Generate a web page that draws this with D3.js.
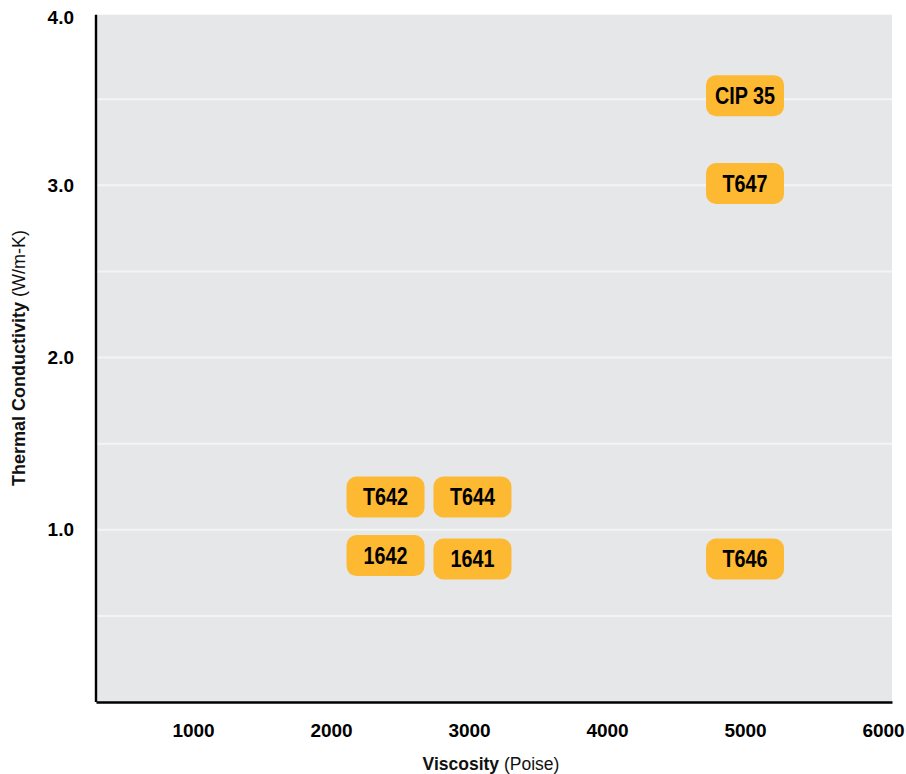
<!DOCTYPE html>
<html>
<head>
<meta charset="utf-8">
<script src="https://cdn.jsdelivr.net/npm/d3@7"></script>
<style>
  body { margin: 0; background: #fff; }
  svg { display: block; font-family: "Liberation Sans", Arial, sans-serif; }
</style>
</head>
<body>
<div id="chart-area"></div>
<script>
// Product grades: viscosity vs thermal conductivity
var labels = ["T642", "T644", "1642", "1641", "T646", "T647", "CIP 35"];
var viscosity = [2395, 3025, 2395, 3025, 5000, 5000, 5000];
var conductivity = [1.19, 1.19, 0.85, 0.83, 0.83, 3.01, 3.52];

var xTicks = [1000, 2000, 3000, 4000, 5000, 6000];
var yTicks = [1, 2, 3, 4];
var gridLines = [0.5, 1, 1.5, 2, 2.5, 3, 3.5];

//Plot area (window.top is reserved, so names are prefixed)
var W = 906, H = 774;
var plotLeft = 96, plotRight = 892, plotTop = 13, plotBottom = 702;

var x = d3.scaleLinear().domain([297, 6065]).range([plotLeft, plotRight]);
var y = d3.scaleLinear().domain([0, 4]).range([plotBottom, plotTop]);

var svg = d3.select("#chart-area").append("svg")
    .attr("width", W)
    .attr("height", H);

// plot background
svg.append("rect")
    .attr("x", plotLeft).attr("y", y(3.99))
    .attr("width", plotRight - plotLeft).attr("height", plotBottom - y(3.99))
    .attr("fill", "#e6e7e9");

// gridlines
svg.append("g").selectAll("line")
    .data(gridLines)
    .enter().append("line")
        .attr("x1", plotLeft).attr("x2", plotRight)
        .attr("y1", d => y(d)).attr("y2", d => y(d))
        .attr("stroke", "#f4f4f5")
        .attr("stroke-width", 2);

// axes
var xAxisGroup = svg.append("g")
    .attr("transform", "translate(0," + plotBottom + ")")
    .call(d3.axisBottom(x).tickValues(xTicks).tickSize(0).tickPadding(22).tickFormat(d3.format("d")));

var yAxisGroup = svg.append("g")
    .attr("transform", "translate(" + plotLeft + ",0)")
    .call(d3.axisLeft(y).tickValues(yTicks).tickSize(0).tickPadding(22).tickFormat(d3.format(".1f")));

[xAxisGroup, yAxisGroup].forEach(g => {
    g.select(".domain").attr("stroke", "#000").attr("stroke-width", 2.4);
    g.selectAll("text")
        .attr("font-family", "'Liberation Sans', Arial, sans-serif")
        .attr("font-size", "19px")
        .attr("font-weight", "bold")
        .attr("fill", "#000");
});
yAxisGroup.select(".domain").attr("d", "M0," + y(3.99) + "V" + plotBottom);
// keep top label inside the view
yAxisGroup.selectAll(".tick").filter(d => d === 4)
    .select("text").attr("dy", "0.55em");

// axis titles
var xLabel = svg.append("text")
    .attr("x", 491).attr("y", 770)
    .attr("text-anchor", "middle")
    .attr("font-size", "17.5px")
    .attr("fill", "#111");
xLabel.append("tspan").attr("font-weight", "bold").text("Viscosity");
xLabel.append("tspan").text(" (Poise)");

var yLabel = svg.append("text")
    .attr("transform", "translate(25,358) rotate(-90)")
    .attr("text-anchor", "middle")
    .attr("font-size", "18px")
    .attr("fill", "#111");
yLabel.append("tspan").attr("font-weight", "bold").text("Thermal Conductivity");
yLabel.append("tspan").text(" (W/m-K)");

// labelled points
var points = labels.map((name, i) => ({ name: name, v: viscosity[i], k: conductivity[i] }));

var tags = svg.append("g").selectAll("g")
    .data(points)
    .enter().append("g")
        .attr("transform", d => "translate(" + x(d.v) + "," + y(d.k) + ")");

tags.append("rect")
    .attr("x", -39).attr("y", -20.5)
    .attr("width", 78).attr("height", 41)
    .attr("rx", 10).attr("ry", 10)
    .attr("fill", "#fdb932");

tags.append("text")
    .attr("transform", "scale(0.86,1)")
    .attr("text-anchor", "middle")
    .attr("dy", "0.36em")
    .attr("font-size", "23px")
    .attr("font-weight", "bold")
    .attr("fill", "#000")
    .text(d => d.name);
</script>
</body>
</html>
